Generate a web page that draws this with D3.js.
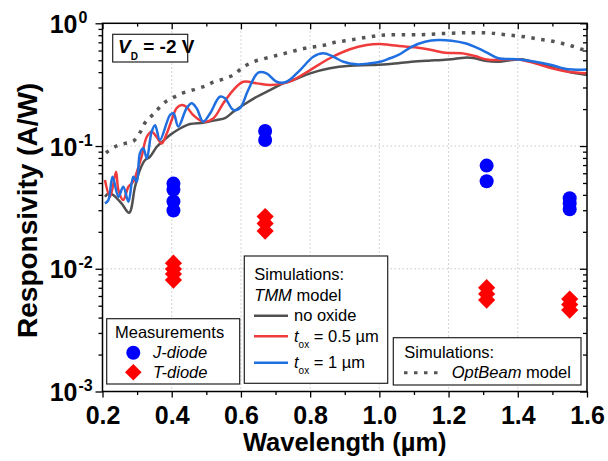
<!DOCTYPE html>
<html><head><meta charset="utf-8">
<script src="https://cdn.jsdelivr.net/npm/d3@7"></script>
<style>
body{margin:0;background:#fff}
text{font-family:"Liberation Sans",Arial,sans-serif;fill:#000}
</style>
</head><body>
<svg id="chart" width="608" height="461"></svg>
<script>
// ---- axis ticks ----
const xTicks = [0.2, 0.4, 0.6, 0.8, 1.0, 1.2, 1.4, 1.6];
const xMinorTicks = [0.3, 0.5, 0.7, 0.9, 1.1, 1.3, 1.5];
const yExponents = [0, -1, -2, -3];

// ---- measured responsivity (A/W) ----
const measWavelengths = [0.405, 0.67, 1.31, 1.55];
const jDiode = [[0.0494, 0.0440, 0.0353, 0.0298], [0.1325, 0.112], [0.0693, 0.0517], [0.0376, 0.034, 0.0305]];
const tDiode = [[0.0111, 0.00995, 0.00906, 0.00809], [0.0266, 0.0234, 0.0203], [0.00701, 0.00624, 0.00556], [0.00566, 0.00511, 0.00461]];

// ---- TMM simulations [wavelength µm, A/W] ----
const noOxide = [[0.207,0.0386],[0.219,0.0414],[0.231,0.0399],[0.255,0.0341],[0.277,0.0286],[0.294,0.0466],[0.308,0.0637],[0.323,0.0769],[0.337,0.0818],[0.357,0.0987],[0.375,0.110],[0.395,0.123],[0.424,0.139],[0.453,0.151],[0.491,0.155],[0.530,0.163],[0.554,0.169],[0.578,0.190],[0.607,0.216],[0.646,0.252],[0.684,0.286],[0.722,0.324],[0.751,0.345],[0.800,0.391],[0.857,0.430],[0.915,0.451],[0.973,0.457],[1.031,0.466],[1.093,0.486],[1.141,0.496],[1.180,0.502],[1.209,0.509],[1.247,0.525],[1.276,0.519],[1.305,0.496],[1.344,0.486],[1.382,0.502],[1.411,0.509],[1.450,0.478],[1.498,0.438],[1.546,0.403],[1.600,0.379]];
const oxide05 = [[0.207,0.0528],[0.222,0.0386],[0.239,0.0618],[0.246,0.0438],[0.260,0.0363],[0.275,0.0466],[0.289,0.0512],[0.301,0.0637],[0.313,0.0818],[0.328,0.119],[0.342,0.131],[0.357,0.118],[0.371,0.105],[0.386,0.127],[0.400,0.163],[0.414,0.203],[0.429,0.216],[0.443,0.208],[0.462,0.179],[0.491,0.158],[0.520,0.168],[0.549,0.223],[0.578,0.286],[0.607,0.334],[0.646,0.324],[0.684,0.314],[0.722,0.324],[0.751,0.345],[0.800,0.416],[0.857,0.519],[0.915,0.614],[0.963,0.665],[1.002,0.678],[1.031,0.665],[1.079,0.644],[1.103,0.637],[1.151,0.606],[1.190,0.576],[1.238,0.569],[1.276,0.541],[1.310,0.507],[1.344,0.502],[1.397,0.509],[1.450,0.472],[1.498,0.430],[1.546,0.403],[1.600,0.391]];
const oxide1 = [[0.207,0.0341],[0.217,0.0363],[0.229,0.0562],[0.246,0.0386],[0.260,0.0466],[0.275,0.0352],[0.289,0.0562],[0.299,0.0512],[0.308,0.0872],[0.318,0.0958],[0.328,0.0794],[0.342,0.131],[0.352,0.148],[0.366,0.112],[0.395,0.179],[0.405,0.185],[0.419,0.144],[0.443,0.203],[0.458,0.223],[0.472,0.203],[0.491,0.158],[0.511,0.185],[0.539,0.252],[0.554,0.245],[0.578,0.197],[0.597,0.203],[0.621,0.286],[0.650,0.397],[0.674,0.391],[0.703,0.334],[0.732,0.334],[0.771,0.416],[0.809,0.534],[0.838,0.569],[0.867,0.534],[0.896,0.486],[0.934,0.463],[0.973,0.472],[1.002,0.486],[1.031,0.519],[1.055,0.552],[1.093,0.644],[1.132,0.708],[1.170,0.731],[1.209,0.721],[1.248,0.687],[1.286,0.625],[1.315,0.569],[1.344,0.519],[1.397,0.509],[1.450,0.486],[1.498,0.457],[1.546,0.422],[1.600,0.421]];

// ---- OptBeam simulation ----
const optBeam = [[0.210,0.088],[0.240,0.100],[0.265,0.105],[0.290,0.110],[0.310,0.131],[0.325,0.158],[0.350,0.185],[0.375,0.222],[0.405,0.249],[0.435,0.272],[0.467,0.290],[0.496,0.308],[0.520,0.331],[0.550,0.352],[0.578,0.379],[0.607,0.440],[0.636,0.486],[0.670,0.518],[0.700,0.544],[0.727,0.569],[0.756,0.598],[0.785,0.626],[0.814,0.645],[0.843,0.665],[0.872,0.700],[0.901,0.721],[0.934,0.745],[0.963,0.769],[0.992,0.792],[1.020,0.803],[1.117,0.807],[1.198,0.829],[1.262,0.838],[1.320,0.834],[1.344,0.818],[1.372,0.803],[1.401,0.788],[1.430,0.769],[1.459,0.745],[1.493,0.721],[1.527,0.687],[1.556,0.653],[1.585,0.614],[1.600,0.600]];

const COL = {gray:"#505050", red:"#ef3b3b", blue:"#1f6fe0", dot:"#555555", jMark:"#0000ff", tMark:"#ff0000"};

const svg = d3.select("#chart");
const L = 102.5, R = 587, T = 23.3, B = 391.5;
const x = d3.scaleLinear().domain([0.2, 1.6]).range([L, R]);
const y = d3.scaleLog().domain([1e-3, 1]).range([B, T]);

const yMajor = yExponents.map(e => Math.pow(10, e));
const yMinor = [];
[-3, -2, -1].forEach(e => { for (let k = 2; k <= 9; k++) yMinor.push(k * Math.pow(10, e)); });

// grid
const grid = svg.append("g").attr("stroke", "#c8c8c8").attr("stroke-width", 1).attr("stroke-dasharray", "1.5,2.5");
grid.selectAll("line.gx").data(xTicks.slice(1, -1)).join("line")
  .attr("x1", d => x(d)).attr("x2", d => x(d)).attr("y1", T).attr("y2", B);
grid.selectAll("line.gy").data([0.1, 0.01]).join("line")
  .attr("x1", L).attr("x2", R).attr("y1", d => y(d)).attr("y2", d => y(d));

// axes
function styleAxis(g) {
  g.select(".domain").remove();
  g.selectAll(".tick line").attr("stroke", "#000").attr("stroke-width", 1.3);
}
svg.append("g").attr("transform", `translate(0,${B})`)
  .call(d3.axisBottom(x).tickValues(xMinorTicks).tickSize(3.5).tickFormat("")).call(styleAxis);
const xb = svg.append("g").attr("transform", `translate(0,${B})`)
  .call(d3.axisBottom(x).tickValues(xTicks).tickSize(6).tickPadding(9).tickFormat(d3.format(".1f"))).call(styleAxis);
xb.selectAll("text").attr("font-size", 25).attr("font-weight", "bold").attr("fill", "#000");

svg.append("g").attr("transform", `translate(0,${T})`)
  .call(d3.axisBottom(x).tickValues(xMinorTicks).tickSize(3.3).tickFormat("")).call(styleAxis);
svg.append("g").attr("transform", `translate(0,${T})`)
  .call(d3.axisBottom(x).tickValues(xTicks).tickSize(6).tickFormat("")).call(styleAxis);

svg.append("g").attr("transform", `translate(${L},0)`)
  .call(d3.axisLeft(y).tickValues(yMinor).tickSize(4).tickFormat("")).call(styleAxis);
const yl = svg.append("g").attr("transform", `translate(${L},0)`)
  .call(d3.axisLeft(y).tickValues(yMajor).tickSize(7).tickFormat("")).call(styleAxis);
yl.selectAll(".tick").each(function (d) {
  const e = Math.round(Math.log10(d));
  const t = d3.select(this);
  t.append("text").attr("x", -25).attr("y", 9).attr("text-anchor", "end")
    .attr("font-size", 25).attr("font-weight", "bold").attr("fill", "#000").text("10");
  t.append("text").attr("x", -24).attr("y", -1).attr("text-anchor", "start")
    .attr("font-size", 16).attr("font-weight", "bold").attr("fill", "#000").text(e === 0 ? "0" : "-" + (-e));
});
svg.append("g").attr("transform", `translate(${R},0)`)
  .call(d3.axisLeft(y).tickValues(yMinor).tickSize(4).tickFormat("")).call(styleAxis);
svg.append("g").attr("transform", `translate(${R},0)`)
  .call(d3.axisLeft(y).tickValues(yMajor).tickSize(7).tickFormat("")).call(styleAxis);

// curves
svg.append("clipPath").attr("id", "plotClip").append("rect")
  .attr("x", L).attr("y", T).attr("width", R - L).attr("height", B - T);
const line = d3.line().x(d => x(d[0])).y(d => y(d[1])).curve(d3.curveCatmullRom.alpha(0.5));
const curves = svg.append("g").attr("clip-path", "url(#plotClip)").attr("fill", "none");
curves.append("path").datum(optBeam).attr("d", line)
  .attr("stroke", COL.dot).attr("stroke-width", 3.5).attr("stroke-dasharray", "3.5,6.5");
curves.append("path").datum(noOxide).attr("d", line).attr("stroke", COL.gray).attr("stroke-width", 2.5);
curves.append("path").datum(oxide05).attr("d", line).attr("stroke", COL.red).attr("stroke-width", 2.5);
curves.append("path").datum(oxide1).attr("d", line).attr("stroke", COL.blue).attr("stroke-width", 2.5);

// measurement markers
const diamond = h => `M0,${-h}L${h},0L0,${h}L${-h},0Z`;
const jPts = [], tPts = [];
measWavelengths.forEach((w, i) => {
  jDiode[i].forEach(v => jPts.push([w, v]));
  tDiode[i].forEach(v => tPts.push([w, v]));
});
svg.append("g").selectAll("circle").data(jPts).join("circle")
  .attr("cx", d => x(d[0])).attr("cy", d => y(d[1])).attr("r", 7).attr("fill", COL.jMark);
svg.append("g").selectAll("path").data(tPts).join("path")
  .attr("transform", d => `translate(${x(d[0])},${y(d[1])})`).attr("d", diamond(8.6)).attr("fill", COL.tMark);

// frame
svg.append("rect").attr("x", L).attr("y", T).attr("width", R - L).attr("height", B - T)
  .attr("fill", "none").attr("stroke", "#000").attr("stroke-width", 1.5);

// axis titles
svg.append("text").attr("x", (L + R) / 2).attr("y", 451).attr("text-anchor", "middle")
  .attr("font-size", 25.5).attr("font-weight", "bold").text("Wavelength (\u00b5m)");
svg.append("text").attr("transform", `translate(37,${(T + B) / 2 + 3}) rotate(-90)`).attr("text-anchor", "middle")
  .attr("font-size", 28).attr("font-weight", "bold").text("Responsivity (A/W)");

// bias annotation
const box = (x0, y0, w, h) => svg.append("rect").attr("x", x0).attr("y", y0).attr("width", w).attr("height", h)
  .attr("fill", "#fff").attr("stroke", "#222").attr("stroke-width", 1.2);
box(112.7, 34.3, 75, 27.7);
const vd = svg.append("text").attr("x", 118).attr("y", 53.3).attr("font-weight", "bold").attr("font-size", 19);
vd.append("tspan").attr("font-style", "italic").text("V");
vd.append("tspan").attr("font-size", 10).attr("dy", 6.5).text("D");
vd.append("tspan").attr("dy", -6.5).text(" = -2 V");

// legend: measurements
box(106.7, 318.7, 133, 65.3);
svg.append("text").attr("x", 115).attr("y", 337.5).attr("font-size", 16.5).text("Measurements");
svg.append("circle").attr("cx", 133.3).attr("cy", 352.7).attr("r", 7).attr("fill", COL.jMark);
svg.append("text").attr("x", 153).attr("y", 358).attr("font-size", 16.5).attr("font-style", "italic").text("J-diode");
svg.append("path").attr("transform", "translate(133.3,372.3)").attr("d", diamond(8.3)).attr("fill", COL.tMark);
svg.append("text").attr("x", 153).attr("y", 377.7).attr("font-size", 16.5).attr("font-style", "italic").text("T-diode");

// legend: TMM simulations
box(244.3, 256, 143.4, 127.3);
svg.append("text").attr("x", 254.3).attr("y", 280).attr("font-size", 16.5).text("Simulations:");
const tmm = svg.append("text").attr("x", 254.3).attr("y", 300.7).attr("font-size", 16.5);
tmm.append("tspan").attr("font-style", "italic").text("TMM");
tmm.append("tspan").text(" model");
const tmmItems = [
  {c: COL.gray, y: 315.7, label: "no oxide"},
  {c: COL.red, y: 336.3, tox: "0.5"},
  {c: COL.blue, y: 362.7, tox: "1"}
];
tmmItems.forEach(it => {
  svg.append("line").attr("x1", 254).attr("x2", 288).attr("y1", it.y).attr("y2", it.y)
    .attr("stroke", it.c).attr("stroke-width", 2.5);
  const t = svg.append("text").attr("x", 294).attr("y", it.y + 5.5).attr("font-size", 16.5);
  if (it.label) { t.text(it.label); return; }
  t.append("tspan").attr("font-style", "italic").text("t");
  t.append("tspan").attr("font-size", 10).attr("dy", 6).text("ox");
  t.append("tspan").attr("dy", -6).text(" = " + it.tox + " \u00b5m");
});

// legend: OptBeam
box(393.3, 337.7, 187.7, 47.3);
svg.append("text").attr("x", 404.3).attr("y", 357.7).attr("font-size", 16.5).text("Simulations:");
svg.append("line").attr("x1", 404).attr("x2", 438).attr("y1", 372.7).attr("y2", 372.7)
  .attr("stroke", COL.dot).attr("stroke-width", 3).attr("stroke-dasharray", "3.5,6.5");
const ob = svg.append("text").attr("x", 451.7).attr("y", 378).attr("font-size", 16.5);
ob.append("tspan").attr("font-style", "italic").text("OptBeam");
ob.append("tspan").text(" model");
</script>
</body></html>
